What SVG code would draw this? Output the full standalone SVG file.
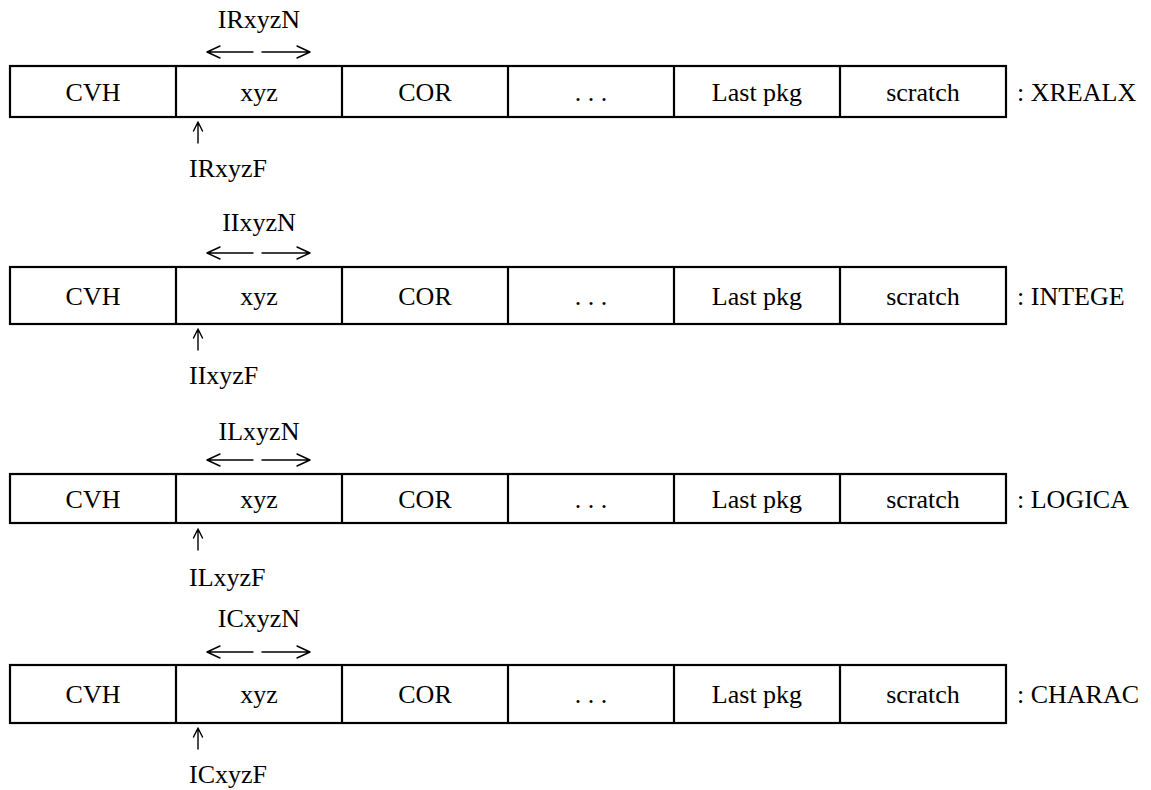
<svg xmlns="http://www.w3.org/2000/svg" width="1151" height="790" viewBox="0 0 1151 790">
<style>
.box{fill:#fff;stroke:#000;stroke-width:2.2}
.div{stroke:#000;stroke-width:2.2}
.t{font-family:"Liberation Serif","Times New Roman",serif;font-size:26px;fill:#000}
.c{text-anchor:middle}
.ar{fill:none;stroke:#000;stroke-width:1.4;stroke-linecap:round;stroke-linejoin:round}
</style>

<g id="row1">
<rect class="box" x="10" y="66" width="996" height="51"/>
<path class="div" d="M176 66V117M342 66V117M508 66V117M674 66V117M840 66V117"/>
<text class="t c" x="93" y="101">CVH</text>
<text class="t c" x="259" y="101">xyz</text>
<text class="t c" x="425" y="101">COR</text>
<text class="t c" x="591" y="101">. . .</text>
<text class="t c" x="757" y="101">Last pkg</text>
<text class="t c" x="923" y="101">scratch</text>
<text class="t" x="1017" y="101">: XREALX</text>
<text class="t c" x="259" y="28">IRxyzN</text>
<text class="t" x="189" y="177">IRxyzF</text>
</g>

<g id="row2">
<rect class="box" x="10" y="267" width="996" height="57"/>
<path class="div" d="M176 267V324M342 267V324M508 267V324M674 267V324M840 267V324"/>
<text class="t c" x="93" y="305">CVH</text>
<text class="t c" x="259" y="305">xyz</text>
<text class="t c" x="425" y="305">COR</text>
<text class="t c" x="591" y="305">. . .</text>
<text class="t c" x="757" y="305">Last pkg</text>
<text class="t c" x="923" y="305">scratch</text>
<text class="t" x="1017" y="305">: INTEGE</text>
<text class="t c" x="259" y="231">IIxyzN</text>
<text class="t" x="189" y="384">IIxyzF</text>
</g>

<g id="row3">
<rect class="box" x="10" y="474" width="996" height="49"/>
<path class="div" d="M176 474V523M342 474V523M508 474V523M674 474V523M840 474V523"/>
<text class="t c" x="93" y="508">CVH</text>
<text class="t c" x="259" y="508">xyz</text>
<text class="t c" x="425" y="508">COR</text>
<text class="t c" x="591" y="508">. . .</text>
<text class="t c" x="757" y="508">Last pkg</text>
<text class="t c" x="923" y="508">scratch</text>
<text class="t" x="1017" y="508">: LOGICA</text>
<text class="t c" x="259" y="440">ILxyzN</text>
<text class="t" x="189" y="586">ILxyzF</text>
</g>

<g id="row4">
<rect class="box" x="10" y="665" width="996" height="58"/>
<path class="div" d="M176 665V723M342 665V723M508 665V723M674 665V723M840 665V723"/>
<text class="t c" x="93" y="703">CVH</text>
<text class="t c" x="259" y="703">xyz</text>
<text class="t c" x="425" y="703">COR</text>
<text class="t c" x="591" y="703">. . .</text>
<text class="t c" x="757" y="703">Last pkg</text>
<text class="t c" x="923" y="703">scratch</text>
<text class="t" x="1017" y="703">: CHARAC</text>
<text class="t c" x="259" y="627">ICxyzN</text>
<text class="t" x="189" y="783">ICxyzF</text>
</g>

<g id="connectors">
<path class="ar" d="M207 52H253M220 46L207 52L220 58M262 52H310M297 46L310 52L297 58"/>
<path class="ar" d="M198 122V143M193.5 131L198 122L202.5 131"/>
<path class="ar" d="M207 253H253M220 247L207 253L220 259M262 253H310M297 247L310 253L297 259"/>
<path class="ar" d="M198 329V350M193.5 338L198 329L202.5 338"/>
<path class="ar" d="M207 460H253M220 454L207 460L220 466M262 460H310M297 454L310 460L297 466"/>
<path class="ar" d="M198 529V550M193.5 538L198 529L202.5 538"/>
<path class="ar" d="M207 652H253M220 646L207 652L220 658M262 652H310M297 646L310 652L297 658"/>
<path class="ar" d="M198 728V749M193.5 737L198 728L202.5 737"/>
</g>
</svg>
